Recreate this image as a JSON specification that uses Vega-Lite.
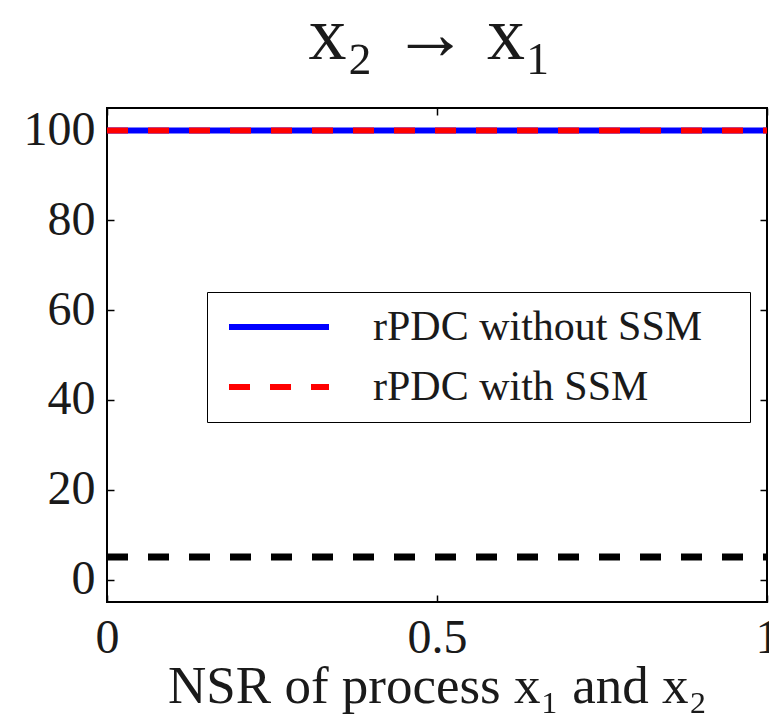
{
  "$schema": "https://vega.github.io/schema/vega-lite/v6.json",
  "width": 660,
  "height": 494,
  "autosize": {"type": "none"},
  "padding": {"left": 107, "top": 108, "right": 2, "bottom": 113},
  "background": "white",
  "title": {
    "text": "x₂ → x₁",
    "font": "Liberation Serif",
    "fontSize": 76,
    "fontStyle": "normal",
    "fontWeight": "normal",
    "color": "#1a1a1a",
    "anchor": "middle",
    "offset": 31,
    "dx": -7
  },
  "datasets": {
    "series": [
      {"nsr": 0, "value": 100, "method": "rPDC without SSM"},
      {"nsr": 1, "value": 100, "method": "rPDC without SSM"},
      {"nsr": 0, "value": 100, "method": "rPDC with SSM"},
      {"nsr": 1, "value": 100, "method": "rPDC with SSM"}
    ],
    "threshold": [
      {"nsr": 0, "value": 5},
      {"nsr": 1, "value": 5}
    ]
  },
  "config": {
    "font": "Liberation Serif",
    "view": {"stroke": "black", "strokeWidth": 2},
    "axis": {
      "grid": false,
      "domain": false,
      "tickColor": "black",
      "tickWidth": 1.5,
      "tickSize": -7,
      "labelFont": "Liberation Serif",
      "labelFontSize": 48,
      "labelColor": "#1a1a1a",
      "titleFont": "Liberation Serif",
      "titleFontSize": 53,
      "titleFontWeight": "normal",
      "titleColor": "#1a1a1a"
    },
    "legend": {
      "title": "\u00a0",
      "titleOrient": "right",
      "titlePadding": 34,
      "titleFontSize": 10,
      "orient": "none",
      "legendX": 100,
      "legendY": 184,
      "symbolType": "M-4,0H4",
      "symbolSize": 625,
      "symbolStrokeWidth": 6,
      "symbolOffset": 37,
      "labelFont": "Liberation Serif",
      "labelFontSize": 42,
      "labelColor": "#1a1a1a",
      "labelOffset": 73,
      "labelLimit": 600,
      "rowPadding": 18,
      "padding": 14,
      "strokeColor": "black",
      "fillColor": "white"
    }
  },
  "layer": [
    {
      "data": {"name": "series"},
      "mark": {"type": "line", "strokeWidth": 6, "strokeCap": "butt", "clip": true},
      "encoding": {
        "x": {
          "field": "nsr", "type": "quantitative",
          "scale": {"domain": [0, 1], "nice": false},
          "axis": {
            "orient": "bottom",
            "values": [0, 0.5, 1],
            "labelExpr": "'' + datum.value",
            "labelPadding": 19,
            "labelFlush": false,
            "title": "NSR of process x₁ and x₂",
            "titlePadding": -2
          }
        },
        "y": {
          "field": "value", "type": "quantitative",
          "scale": {"domain": [-5, 105], "nice": false, "zero": false},
          "axis": {
            "orient": "left",
            "values": [0, 20, 40, 60, 80, 100],
            "labelPadding": 19,
            "title": null
          }
        },
        "color": {
          "field": "method", "type": "nominal",
          "scale": {"domain": ["rPDC without SSM", "rPDC with SSM"], "range": ["#0000ff", "#ff0000"]},
          "legend": {"title": "\u00a0"}
        },
        "strokeDash": {
          "field": "method", "type": "nominal",
          "scale": {"domain": ["rPDC without SSM", "rPDC with SSM"], "range": [[1, 0], [21, 20]]},
          "legend": {"title": "\u00a0"}
        }
      }
    },
    {
      "data": {"name": "threshold"},
      "mark": {"type": "line", "strokeWidth": 7, "color": "black", "strokeDash": [21, 20], "strokeCap": "butt", "clip": true},
      "encoding": {
        "x": {
          "field": "nsr", "type": "quantitative",
          "axis": {"orient": "top", "values": [0, 0.5, 1], "labels": false, "title": null}
        },
        "y": {
          "field": "value", "type": "quantitative",
          "axis": {"orient": "right", "values": [0, 20, 40, 60, 80, 100], "labels": false, "title": null}
        }
      }
    }
  ],
  "resolve": {"axis": {"x": "independent", "y": "independent"}}
}
